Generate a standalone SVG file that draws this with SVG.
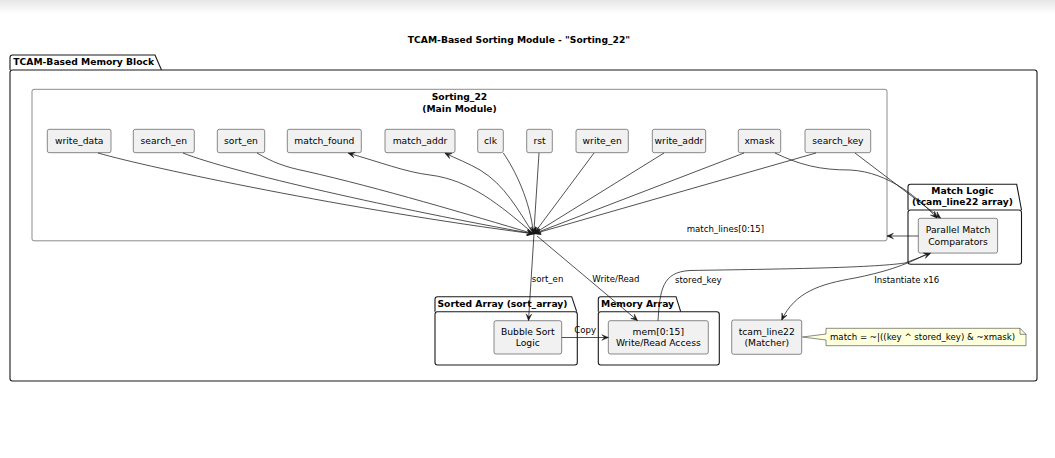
<svg xmlns="http://www.w3.org/2000/svg" width="1055" height="458" viewBox="0 0 1055 458">
<defs>
<linearGradient id="topfade" x1="0" y1="0" x2="0" y2="1">
<stop offset="0" stop-color="#e6e6e6"/>
<stop offset="1" stop-color="#ffffff"/>
</linearGradient>
<marker id="arr" viewBox="-7 -3.5 8 7" refX="0" refY="0" markerWidth="8" markerHeight="7" markerUnits="userSpaceOnUse" orient="auto">
<path d="M0,0 L-6.5,-2.8 L-3.6,0 L-6.5,2.8 Z" fill="#181818" stroke="#181818" stroke-width="0.5"/>
</marker>
</defs>
<style>
text{font-family:"DejaVu Sans","Liberation Sans",sans-serif;fill:#000}
.lbl{font-size:9.2px;text-anchor:middle}
.bold{font-weight:bold;font-size:9.2px}
.edge{font-size:8.6px}
.node{fill:#F1F1F1;stroke:#181818;stroke-width:0.5}
.pkg{fill:none;stroke:#181818;stroke-width:1.1}
.cn{fill:none;stroke:#181818;stroke-width:0.75}
.ar{marker-end:url(#arr)}
</style>
<rect x="0" y="0" width="1055" height="458" fill="#ffffff"/>
<rect x="0" y="0" width="1055" height="14" fill="url(#topfade)"/>

<text x="519" y="43" class="bold" text-anchor="middle">TCAM-Based Sorting Module - "Sorting_22"</text>

<g id="pkg-memory-block">
<path class="pkg" d="M10,70 L10,57.5 Q10,55 12.5,55 L155,55 L161.5,70"/>
<rect class="pkg" x="10" y="70" width="1027" height="311" rx="2.5"/>
<text x="13.3" y="65" class="bold">TCAM-Based Memory Block</text>
</g>

<g id="sorting22">
<rect x="32" y="89.3" width="855" height="151.5" rx="2" fill="none" stroke="#181818" stroke-width="0.5"/>
<text x="459.5" y="100" class="bold" text-anchor="middle">Sorting_22</text>
<text x="459.5" y="111.5" class="bold" text-anchor="middle">(Main Module)</text>
</g>

<g id="write_data"><rect class="node" x="47.3" y="129.3" width="63.7" height="23.4" rx="2"/><text class="lbl" x="79.2" y="144.4">write_data</text></g>
<g id="search_en"><rect class="node" x="133.3" y="129.3" width="61" height="23.4" rx="2"/><text class="lbl" x="163.8" y="144.4">search_en</text></g>
<g id="sort_en"><rect class="node" x="217.3" y="129.3" width="47.4" height="23.4" rx="2"/><text class="lbl" x="241" y="144.4">sort_en</text></g>
<g id="match_found"><rect class="node" x="287.3" y="129.3" width="74" height="23.4" rx="2"/><text class="lbl" x="324.3" y="144.4">match_found</text></g>
<g id="match_addr"><rect class="node" x="385" y="129.3" width="70" height="23.4" rx="2"/><text class="lbl" x="420" y="144.4">match_addr</text></g>
<g id="clk"><rect class="node" x="477.7" y="129.3" width="25.6" height="23.4" rx="2"/><text class="lbl" x="490.5" y="144.4">clk</text></g>
<g id="rst"><rect class="node" x="526.7" y="129.3" width="25.6" height="23.4" rx="2"/><text class="lbl" x="539.5" y="144.4">rst</text></g>
<g id="write_en"><rect class="node" x="576" y="129.3" width="52.3" height="23.4" rx="2"/><text class="lbl" x="602.2" y="144.4">write_en</text></g>
<g id="write_addr"><rect class="node" x="652.3" y="129.3" width="53.4" height="23.4" rx="2"/><text class="lbl" x="679" y="144.4">write_addr</text></g>
<g id="xmask"><rect class="node" x="738.3" y="129.3" width="42.4" height="23.4" rx="2"/><text class="lbl" x="759.5" y="144.4">xmask</text></g>
<g id="search_key"><rect class="node" x="805" y="129.3" width="65.7" height="23.4" rx="2"/><text class="lbl" x="837.9" y="144.4">search_key</text></g>

<g id="pkg-match-logic">
<path class="pkg" d="M908,210 L908,186.8 Q908,184.3 910.5,184.3 L1016.7,184.3 L1021.5,210"/>
<rect class="pkg" x="908" y="210" width="113.5" height="54.3" rx="2.5"/>
<text x="962.5" y="194" class="bold" text-anchor="middle">Match Logic</text>
<text x="962.5" y="205.3" class="bold" text-anchor="middle">(tcam_line22 array)</text>
</g>
<g id="parallel_match"><rect class="node" x="918.3" y="218.3" width="79.3" height="34.8" rx="2"/><text class="lbl" x="958" y="233.3">Parallel Match</text><text class="lbl" x="958" y="244.6">Comparators</text></g>

<g id="pkg-sorted-array">
<path class="pkg" d="M435,311.7 L435,299.2 Q435,296.7 437.5,296.7 L571.7,296.7 L576.7,311.7"/>
<rect class="pkg" x="435" y="311.7" width="142.3" height="53.3" rx="2.5"/>
<text x="437.5" y="306.7" class="bold">Sorted Array (sort_array)</text>
</g>
<g id="bubble_sort"><rect class="node" x="494" y="320.7" width="67.7" height="33.3" rx="2"/><text class="lbl" x="527.8" y="335">Bubble Sort</text><text class="lbl" x="527.8" y="346">Logic</text></g>

<g id="pkg-memory-array">
<path class="pkg" d="M598.3,311.7 L598.3,299.2 Q598.3,296.7 600.8,296.7 L676,296.7 L680.7,311.7"/>
<rect class="pkg" x="598.3" y="311.7" width="121" height="53.3" rx="2.5"/>
<text x="601" y="306.7" class="bold">Memory Array</text>
</g>
<g id="mem"><rect class="node" x="608.3" y="320.7" width="100" height="33.3" rx="2"/><text class="lbl" x="658.3" y="335">mem[0:15]</text><text class="lbl" x="658.3" y="346">Write/Read Access</text></g>

<g id="tcam_line22"><rect class="node" x="731.7" y="320" width="70" height="34.3" rx="2"/><text class="lbl" x="766.7" y="335">tcam_line22</text><text class="lbl" x="766.7" y="346">(Matcher)</text></g>

<g id="note">
<path d="M826,328.3 L1020,328.3 L1026,334.3 L1026,345.7 L826,345.7 L826,340 L802.5,337 L826,334 Z" fill="#FEFFDD" stroke="#181818" stroke-width="0.5"/>
<path d="M1020,328.3 L1020,334.3 L1026,334.3" fill="none" stroke="#181818" stroke-width="0.5"/>
<text x="830" y="339.8" class="edge">match = ~|((key ^ stored_key) &amp; ~xmask)</text>
</g>

<g id="connectors">
<path class="cn ar" d="M98,153 C150,168 350,210 533.5,233.8"/>
<path class="cn ar" d="M183,153 C230,172 400,210 533.5,233.8"/>
<path class="cn ar" d="M257,153 C272,162 285,167 305,171 C380,188 470,215 533.5,233.8"/>
<path class="cn ar" d="M533.5,233.8 C500,205 470,180 430,175 C405,172 380,162 348.3,153.2"/>
<path class="cn ar" d="M533.5,233.8 C518,210 505,185 480,170 C470,164 455,158 445,153.2"/>
<path class="cn ar" d="M503.3,153 C515,170 530,200 533.5,233.8"/>
<path class="cn ar" d="M539,153 L533.8,233.5"/>
<path class="cn ar" d="M594,153 L534,233.5"/>
<path class="cn ar" d="M664,153 L534.2,233.5"/>
<path class="cn ar" d="M744,153 L534.2,233.6"/>
<path class="cn ar" d="M816,153 L534.2,233.7"/>
<path class="cn ar" d="M775,153 C800,165 820,170 850,170 C890,172 920,200 937,218"/>
<path class="cn ar" d="M855,153 L940.5,218"/>
<path class="cn ar" d="M918.3,236 L887,236"/>
<path class="cn ar" d="M534,234 L528.5,320.5"/>
<path class="cn ar" d="M537,236 L637.5,320.5"/>
<path class="cn ar" d="M561.7,337.5 L608.3,337.5"/>
<path class="cn ar" d="M658,320.7 C660,290 662,272 690,270.5 C780,269 870,268 905,263 L930.5,253.3"/>
<path class="cn ar" d="M927.5,253.5 C905,266 880,273 855,278 C820,284 795,292 781.7,320"/>
<text x="686.7" y="231.7" class="edge">match_lines[0:15]</text>
<text x="531.7" y="282.3" class="edge">sort_en</text>
<text x="592.3" y="282.3" class="edge">Write/Read</text>
<text x="675" y="282.7" class="edge">stored_key</text>
<text x="874.3" y="282.7" class="edge">Instantiate x16</text>
<text x="574.3" y="332.7" class="edge">Copy</text>
</g>
</svg>
